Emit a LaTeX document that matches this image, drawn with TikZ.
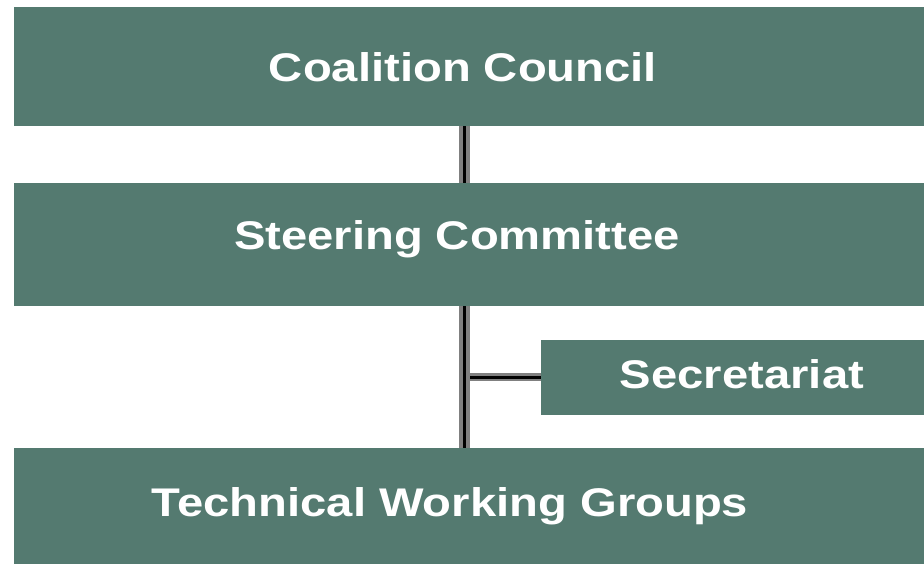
\documentclass[tikz,border=0pt]{standalone}
\usepackage{fontspec}
\newfontfamily\orgfont{Liberation Sans}[FakeStretch=1.18]
\definecolor{orggreen}{RGB}{84,122,112}

\begin{document}
\begin{tikzpicture}[x=1pt,y=-1pt,
  box/.style={fill=orggreen, draw=none, anchor=north west, inner sep=0pt},
  boxtext/.style={text=white, inner sep=0pt, font=\orgfont\bfseries\fontsize{40}{48}\selectfont},
  link/.style={draw=gray, double=black, double distance=3pt, line width=4pt}]
\useasboundingbox (0,0) rectangle (924,564);

%boites
\node[box, minimum width=910pt, minimum height=119pt] (council) at (14,7) {};
\node[box, minimum width=910pt, minimum height=123pt] (steering) at (14,183) {};
\node[box, minimum width=383pt, minimum height=75pt] (secretariat) at (541,340) {};
\node[box, minimum width=910pt, minimum height=116pt] (groups) at (14,448) {};

%textes
\node[boxtext] (councilname) at (463,67) {Coalition Council};
\node[boxtext] (steeringname) at (457,239) {Steering Committee};
\node[boxtext] (secretariatname) at (742,374) {Secretariat};
\node[boxtext] (groupsname) at (450,506) {Technical Working Groups};

%liaisons
\coordinate (spine) at (464.5,377);
\draw[link, line width=2.5pt] (spine) -- (secretariat.west |- spine);
\draw[link] (council.south -| spine) -- (steering.north -| spine);
\draw[link] (steering.south -| spine) -- (groups.north -| spine);

\end{tikzpicture}
\end{document}
